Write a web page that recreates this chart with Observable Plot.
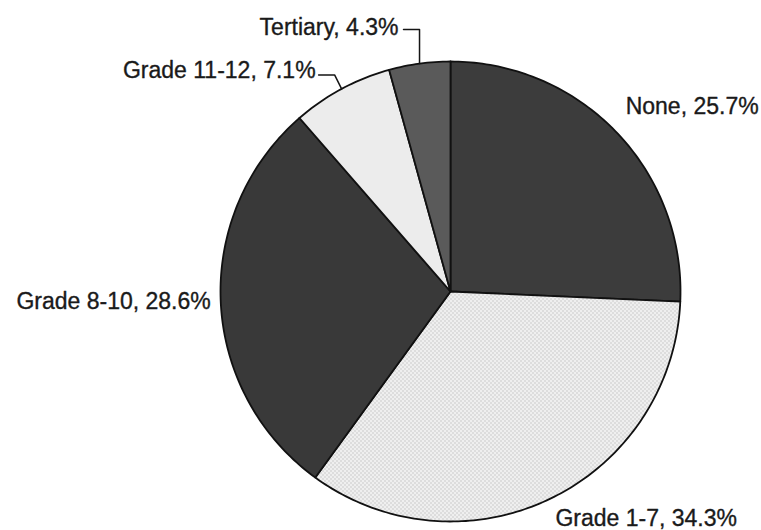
<!DOCTYPE html>
<html><head><meta charset="utf-8">
<script src="https://cdn.jsdelivr.net/npm/d3@7"></script>
<script src="https://cdn.jsdelivr.net/npm/@observablehq/plot@0.6"></script>
<style>
body{margin:0;background:#fff;}
#chart{width:761px;height:530px;}
</style>
</head><body>
<div id="chart"></div>
<script>
// ---- data ----
const categories = ["None", "Grade 1-7", "Grade 8-10", "Grade 11-12", "Tertiary"];
const shares = [25.7, 34.3, 28.6, 7.1, 4.3];
const fills = ["#3c3c3c", "url(#stipple)", "#393939", "#ececec", "#5a5a5a"];

// ---- layout (pixel offsets for labels / leaders) ----
const labelLayout = {
  "None":        {anchor: "start", dx: 9,  dy: -26},
  "Grade 1-7":   {anchor: "start", dx: 5,  dy: 20},
  "Grade 8-10":  {anchor: "end",   dx: -10, dy: 0},
  "Grade 11-12": {anchor: "end",   leader: [-7, -14], dx: -3, dy: -4},
  "Tertiary":    {anchor: "end",   leader: [0, -34],  dx: -5, dy: -2}
};
const R = 230; // pixel radius (x/y scale half-range)

const pie = d3.pie().sort(null).value(d => d.share);
const table = categories.map((c, i) => ({category: c, share: shares[i], fill: fills[i],
  label: `${c}, ${shares[i].toFixed(1)}%`}));
const arcs = pie(table);

// polygon outline of each slice in unit coordinates
const slicePts = [];
arcs.forEach(a => {
  const n = Math.max(2, Math.ceil((a.endAngle - a.startAngle) / (Math.PI / 180)));
  slicePts.push({cat: a.data.category, x: 0, y: 0});
  for (let k = 0; k <= n; k++) {
    const t = a.startAngle + (a.endAngle - a.startAngle) * k / n;
    slicePts.push({cat: a.data.category, x: Math.sin(t), y: Math.cos(t)});
  }
});

const labelPts = arcs.map(a => {
  const m = (a.startAngle + a.endAngle) / 2;
  return {cat: a.data.category, label: a.data.label, x: Math.sin(m), y: Math.cos(m)};
});

const marks = [];
arcs.forEach(a => {
  marks.push(Plot.line(slicePts.filter(p => p.cat === a.data.category), {
    x: "x", y: "y", curve: "linear-closed",
    fill: a.data.fill, stroke: "#111111", strokeWidth: 1.8
  }));
});

labelPts.forEach(p => {
  const L = labelLayout[p.cat];
  let tx = p.x, ty = p.y;
  if (L.leader) {
    const p1 = {x: p.x + L.leader[0] / R, y: p.y - L.leader[1] / R};
    const p2 = {x: p1.x - 16 / R, y: p1.y};
    marks.push(Plot.line([{x: p.x, y: p.y}, p1, p2], {
      x: "x", y: "y", stroke: "#151515", strokeWidth: 1.5
    }));
    tx = p2.x; ty = p2.y;
  }
  marks.push(Plot.text([{x: tx, y: ty, label: p.label}], {
    x: "x", y: "y", text: "label", textAnchor: L.anchor, dx: L.dx, dy: L.dy,
    fontSize: 23, fontFamily: "'Liberation Sans', Arial, sans-serif",
    fill: "#1a1a1a", stroke: "#1a1a1a", strokeWidth: 0.35, lineAnchor: "middle"
  }));
});

const chart = Plot.plot({
  width: 761, height: 530,
  marginLeft: 220, marginRight: 81, marginTop: 61, marginBottom: 9,
  x: {domain: [-1, 1], axis: null},
  y: {domain: [-1, 1], axis: null},
  style: {background: "#ffffff", overflow: "visible"},
  marks
});

const defs = d3.select(chart).insert("defs", ":first-child");
const pat = defs.append("pattern").attr("id", "stipple").attr("patternUnits", "userSpaceOnUse")
  .attr("width", 4).attr("height", 4);
pat.append("rect").attr("width", 4).attr("height", 4).attr("fill", "#efefef");
pat.append("rect").attr("x", 0).attr("y", 0).attr("width", 1).attr("height", 1).attr("fill", "#a8a8a8");
pat.append("rect").attr("x", 2).attr("y", 2).attr("width", 1).attr("height", 1).attr("fill", "#a8a8a8");

document.getElementById("chart").append(chart);
</script>
</body></html>
